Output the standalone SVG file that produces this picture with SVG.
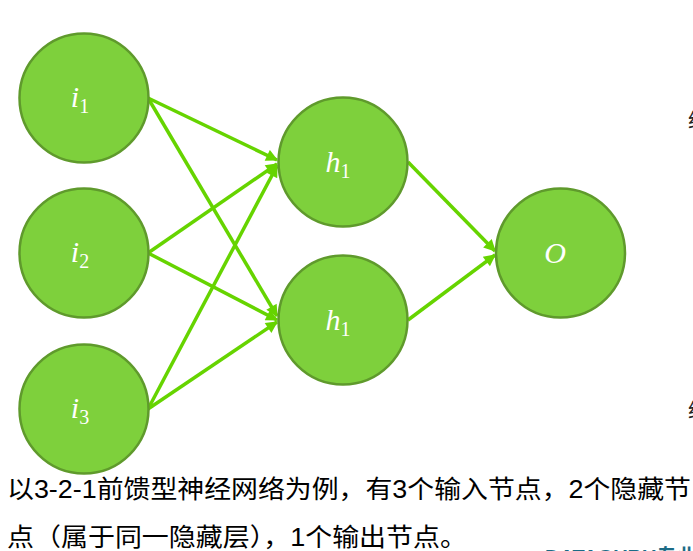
<svg xmlns="http://www.w3.org/2000/svg" width="693" height="551" viewBox="0 0 693 551">
<style>
.node{fill:#7ED03C;stroke:#5F9A2C;stroke-width:2.5}
.lbl{font-family:"Liberation Serif","DejaVu Serif",serif;font-style:italic;font-size:30px;fill:#ffffff;text-anchor:middle}
.sub{font-style:normal;font-size:20px}
.edge{stroke:#66D400;stroke-width:3.5;fill:none;marker-end:url(#arr)}
.cap{font-family:"Liberation Sans","Noto Sans CJK SC",sans-serif;font-size:25px;fill:#000000}
.frag{font-family:"Noto Sans CJK SC",sans-serif;font-size:20px;fill:#222222}
</style>
<defs>
<marker id="arr" viewBox="0 0 10 10" refX="9" refY="5" markerWidth="14" markerHeight="12" markerUnits="userSpaceOnUse" orient="auto">
<path d="M0,0 L10,5 L0,10 z" fill="#66D400"/>
</marker>
</defs>
<rect width="693" height="551" fill="#ffffff"/>
<g id="connectors">
<line class="edge" x1="148" y1="98" x2="277" y2="160"/>
<line class="edge" x1="148" y1="98" x2="277" y2="316"/>
<line class="edge" x1="148" y1="253" x2="277" y2="164"/>
<line class="edge" x1="148" y1="253" x2="277" y2="320"/>
<line class="edge" x1="148" y1="409" x2="277" y2="166"/>
<line class="edge" x1="148" y1="409" x2="277" y2="322"/>
<line class="edge" x1="408" y1="162" x2="495" y2="251"/>
<line class="edge" x1="408" y1="320" x2="495" y2="255"/>
</g>
<g id="i1"><circle class="node" cx="84" cy="98" r="64.5"/><text class="lbl" x="80" y="107">i<tspan class="sub" dy="6">1</tspan></text></g>
<g id="i2"><circle class="node" cx="84" cy="253" r="64.5"/><text class="lbl" x="80" y="262">i<tspan class="sub" dy="6">2</tspan></text></g>
<g id="i3"><circle class="node" cx="84" cy="409" r="64.5"/><text class="lbl" x="80" y="418">i<tspan class="sub" dy="6">3</tspan></text></g>
<g id="h1"><circle class="node" cx="343" cy="162" r="64.5"/><text class="lbl" x="338" y="172">h<tspan class="sub" dy="6">1</tspan></text></g>
<g id="h2"><circle class="node" cx="343" cy="320" r="64.5"/><text class="lbl" x="338" y="330">h<tspan class="sub" dy="6">1</tspan></text></g>
<g id="o"><circle class="node" cx="560.5" cy="253" r="64.5"/><text class="lbl" x="555" y="263">O</text></g>
<g id="caption">
<text class="cap" x="7" y="498" textLength="684" lengthAdjust="spacingAndGlyphs">以3-2-1前馈型神经网络为例，有3个输入节点，2个隐藏节</text>
<text class="cap" x="7" y="546" textLength="460" lengthAdjust="spacingAndGlyphs">点（属于同一隐藏层），1个输出节点。</text>
</g>
<g id="edge-fragments">
<text class="frag" x="688" y="128">经</text>
<text class="frag" x="688" y="418">经</text>
<text x="545" y="564" font-family="Liberation Sans,Noto Sans CJK SC,sans-serif" font-weight="bold" font-size="20" fill="#1B6B86">DATAGURU专业论坛</text>
</g>
</svg>
